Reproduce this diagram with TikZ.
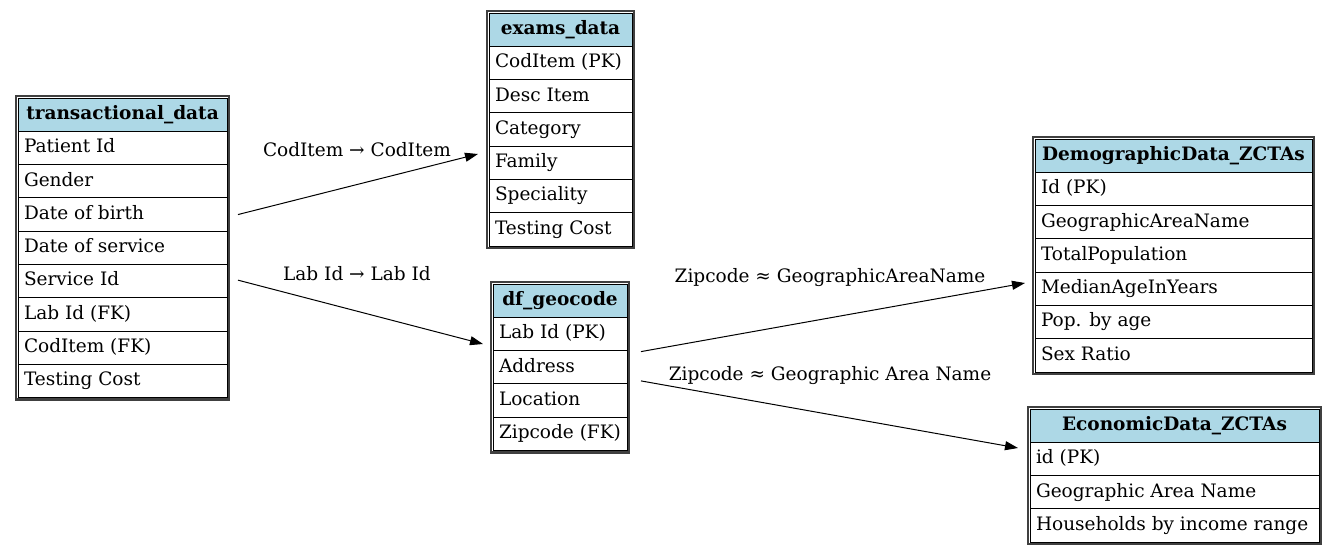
\documentclass[tikz,border=0pt]{standalone}
\usepackage{fontspec}
\setmainfont{DejaVu Serif}
\usetikzlibrary{arrows.meta,calc}
\definecolor{hdrblue}{HTML}{ADD8E6}
\tikzset{
 cell/.style={draw=black, line width=1pt, outer sep=0pt, inner xsep=0pt, inner ysep=0pt, minimum height=33.3pt, text height=13.5pt, text depth=4pt, font=\fontsize{18.5}{21}\selectfont},
 hdr/.style={cell, fill=hdrblue, font=\fontsize{18.5}{21}\selectfont\bfseries},
 rowcell/.style={cell, fill=white},
 frame/.style={draw=black!75, line width=2.5pt, fill=white},
 link/.style={-{Triangle[length=13pt,width=9pt]}, line width=1pt},
 lbl/.style={font=\fontsize{18.5}{21}\selectfont, inner sep=0pt}
}
\newcommand{\ertab}[7]{%
  \pgfmathsetmacro{\ertw}{#4-4}%
  \draw[frame] (#2,#3) rectangle ++(#4,{(#5+1)*33.3+4});
  \node[hdr, anchor=north west] (#1-0) at ({#2+2},{#3+2}) {\makebox[\ertw pt][c]{#6}};
  \foreach \txt [count=\i, remember=\i as \j (initially 0)] in {#7}{
    \node[rowcell, anchor=north west] (#1-\i) at (#1-\j.south west) {\makebox[\ertw pt][l]{\hspace{6pt}\txt}};
  }
}
\begin{document}
\begin{tikzpicture}[x=1pt,y=-1pt]
\useasboundingbox[fill=white] (0,0) rectangle (1336,555);
\ertab{trans}{16}{96}{213}{8}{transactional\_data}{Patient Id,Gender,Date of birth,Date of service,Service Id,Lab Id (FK),CodItem (FK),Testing Cost}
\ertab{exams}{487}{11}{147}{6}{exams\_data}{CodItem (PK),Desc Item,Category,Family,Speciality,Testing Cost}
\ertab{geo}{491}{282}{138}{4}{df\_geocode}{Lab Id (PK),Address,Location,Zipcode (FK)}
\ertab{demo}{1033}{137}{281}{6}{DemographicData\_ZCTAs}{Id (PK),GeographicAreaName,TotalPopulation,MedianAgeInYears,Pop. by age,Sex Ratio}
\ertab{econ}{1028}{407}{293}{3}{EconomicData\_ZCTAs}{id (PK),Geographic Area Name,Households by income range}
\coordinate (e1) at (478,154);
\coordinate (e2) at (483,344);
\coordinate (e3) at (1025,283);
\coordinate (e4) at (1018,448);
\draw[link] ($(trans-3.east)+(11,0)$) -- (e1);
\draw[link] ($(trans-5.east)+(11,-1)$) -- (e2);
\draw[link] ($(geo-2.north east)+(14,1)$) -- (e3);
\draw[link] ($(geo-2.south east)+(14,-3)$) -- (e4);
\node[lbl] (l1) at (357,150) {CodItem → CodItem};
\node[lbl] (l2) at (357,274) {Lab Id → Lab Id};
\node[lbl] (l3) at (830,278) {Zipcode ≈ GeographicAreaName};
\node[lbl] (l4) at (830,376) {Zipcode ≈ Geographic Area Name};
\end{tikzpicture}
\end{document}
